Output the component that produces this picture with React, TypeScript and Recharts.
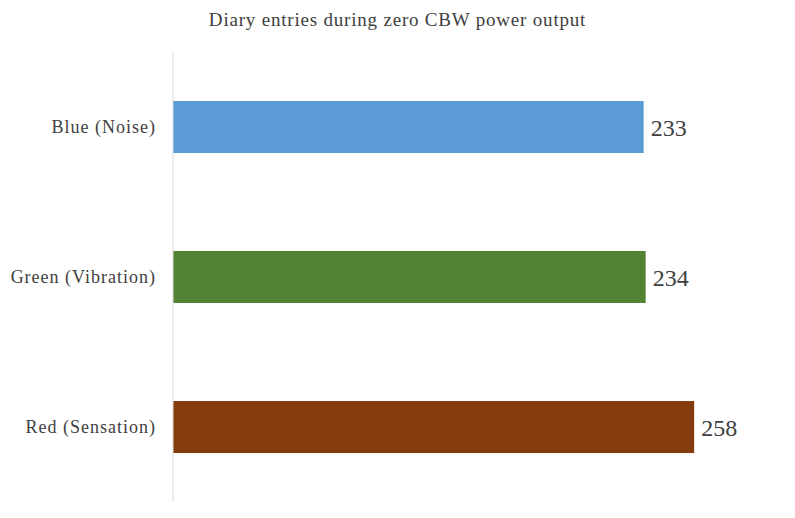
import { Bar, BarChart, Cell, LabelList, XAxis, YAxis } from "recharts"

const categories = ["Blue (Noise)", "Green (Vibration)", "Red (Sensation)"]
const entries = [233, 234, 258]
const colors = ["#5B9BD5", "#548235", "#843C0C"]
const xDomain = [0, 300]

const data = categories.map((name, i) => ({ name, entries: entries[i] }))

const font = "'Liberation Serif', 'DejaVu Serif', serif"

export default function App() {
  return (
    <div
      style={{
        position: "fixed",
        left: 0,
        top: 0,
        width: 795,
        height: 518,
        background: "#fff",
        fontFamily: font,
      }}
    >
      <div
        style={{
          position: "absolute",
          top: 9,
          width: 795,
          textAlign: "center",
          fontSize: 19,
          letterSpacing: 0.8,
          color: "#404040",
        }}
      >
        Diary entries during zero CBW power output
      </div>
      <BarChart
        width={795}
        height={518}
        data={data}
        layout="vertical"
        margin={{ top: 52, right: 16, left: 0, bottom: 16 }}
        barSize={52}
      >
        <XAxis type="number" domain={xDomain} hide />
        <YAxis
          type="category"
          dataKey="name"
          width={173}
          tickLine={false}
          tickSize={0}
          tickMargin={17}
          axisLine={{ stroke: "#d9d9d9" }}
          tick={{ fill: "#404040", fontSize: 18, letterSpacing: 1, fontFamily: font }}
        />
        <Bar dataKey="entries" isAnimationActive={false}>
          {data.map((d, i) => (
            <Cell key={d.name} fill={colors[i]} />
          ))}
          <LabelList
            dataKey="entries"
            position="right"
            offset={7}
            style={{ fill: "#404040", fontSize: 24, fontFamily: font }}
          />
        </Bar>
      </BarChart>
    </div>
  )
}
